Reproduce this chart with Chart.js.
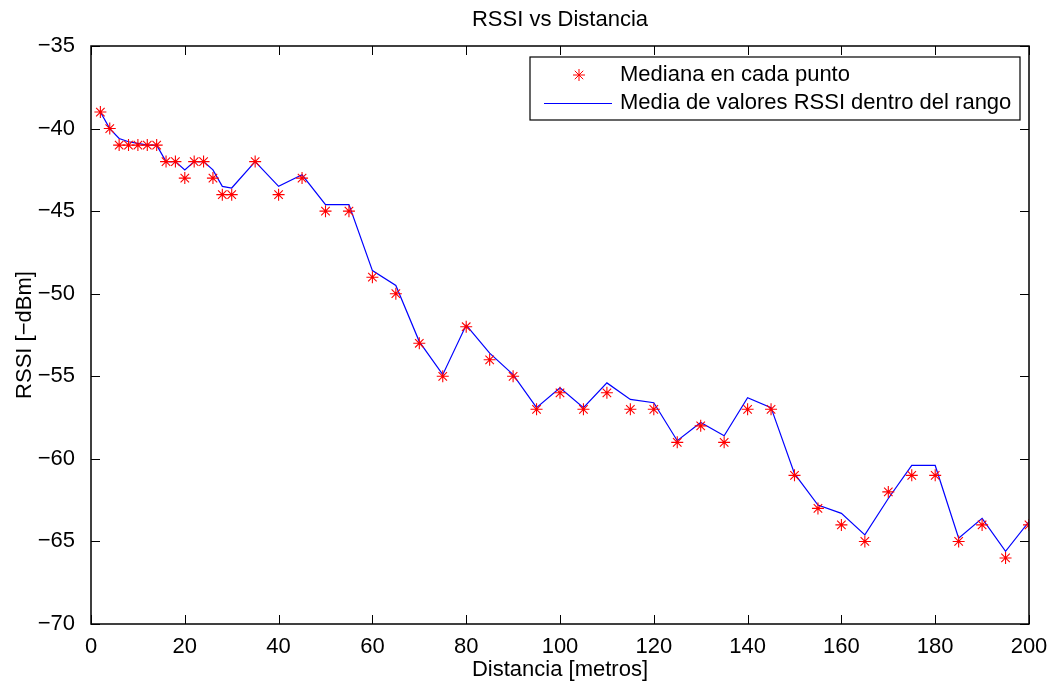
<!DOCTYPE html>
<html>
<head>
<meta charset="utf-8">
<script src="https://cdn.jsdelivr.net/npm/chart.js@4/dist/chart.umd.min.js"></script>
<style>
html,body{margin:0;padding:0;background:#fff;}
#wrap{width:1058px;height:683px;position:relative;}
</style>
</head>
<body>
<div id="wrap"><canvas id="c" width="1058" height="683"></canvas></div>
<script>
const chartTitle = 'RSSI vs Distancia';
const xTitle = 'Distancia [metros]';
const yTitle = 'RSSI [\u2212dBm]';
const legendLabels = ['Mediana en cada punto', 'Media de valores RSSI dentro del rango'];

const distances = [2,4,6,8,10,12,14,16,18,20,22,24,26,28,30,35,40,45,50,55,60,65,70,75,80,85,90,95,100,105,110,115,120,125,130,135,140,145,150,155,160,165,170,175,180,185,190,195,200];
const medianRSSI = [-39,-40,-41,-41,-41,-41,-41,-42,-42,-43,-42,-42,-43,-44,-44,-42,-44,-43,-45,-45,-49,-50,-53,-55,-52,-54,-55,-57,-56,-57,-56,-57,-57,-59,-58,-59,-57,-57,-61,-63,-64,-65,-62,-61,-61,-65,-64,-66,-64];
const meanRSSI = [-39,-40,-40.6,-40.8,-40.9,-41,-41,-42,-42,-42.5,-42,-42,-42.5,-43.5,-43.6,-42,-43.5,-42.8,-44.6,-44.6,-48.6,-49.5,-52.9,-54.9,-51.9,-53.6,-54.9,-56.9,-55.7,-56.9,-55.4,-56.4,-56.6,-58.9,-57.8,-58.6,-56.3,-56.9,-60.9,-62.8,-63.3,-64.6,-62.4,-60.4,-60.4,-64.8,-63.6,-65.6,-63.8];

const xTicks = [0,20,40,60,80,100,120,140,160,180,200];
const yTicks = [-70,-65,-60,-55,-50,-45,-40,-35];

const FONT = 'Liberation Sans, Arial, Helvetica, sans-serif';
const FS = 22;
const fmt = v => v < 0 ? '\u2212' + Math.abs(v) : String(v);

const frameTicks = {
  id: 'frameTicks',
  afterDatasetsDraw(chart) {
    const {ctx, chartArea: a, scales: {x, y}} = chart;
    ctx.save();
    ctx.strokeStyle = '#000';
    ctx.lineWidth = 1;
    const L = 9;
    ctx.beginPath();
    xTicks.forEach(v => {
      const px = Math.round(x.getPixelForValue(v)) + 0.5;
      ctx.moveTo(px, a.bottom); ctx.lineTo(px, a.bottom - L);
      ctx.moveTo(px, a.top); ctx.lineTo(px, a.top + L);
    });
    yTicks.forEach(v => {
      const py = Math.round(y.getPixelForValue(v)) + 0.5;
      ctx.moveTo(a.left, py); ctx.lineTo(a.left + L, py);
      ctx.moveTo(a.right, py); ctx.lineTo(a.right - L, py);
    });
    ctx.stroke();
    ctx.lineWidth = 1.5;
    ctx.strokeRect(a.left, a.top, a.right - a.left, a.bottom - a.top);

    // legend box
    const bx = a.left + 439, by = a.top + 11, bw = 490, bh = 63;
    ctx.fillStyle = '#fff';
    ctx.fillRect(bx, by, bw, bh);
    ctx.lineWidth = 1.2;
    ctx.strokeRect(bx, by, bw, bh);
    const sx = bx + 49, sy1 = by + 18, sy2 = by + 46;
    ctx.strokeStyle = '#ff0000';
    ctx.lineWidth = 1;
    ctx.beginPath();
    const r = 6;
    for (let k = 0; k < 4; k++) {
      const ang = k * Math.PI / 4;
      ctx.moveTo(sx - Math.cos(ang) * r, sy1 - Math.sin(ang) * r);
      ctx.lineTo(sx + Math.cos(ang) * r, sy1 + Math.sin(ang) * r);
    }
    ctx.stroke();
    ctx.strokeStyle = '#0000ff';
    ctx.beginPath();
    ctx.moveTo(bx + 14, sy2 + 0.5); ctx.lineTo(bx + 82, sy2 + 0.5);
    ctx.stroke();
    ctx.fillStyle = '#000';
    ctx.font = FS + 'px ' + FONT;
    ctx.textBaseline = 'middle';
    ctx.textAlign = 'left';
    ctx.fillText(legendLabels[0], bx + 90, sy1);
    ctx.fillText(legendLabels[1], bx + 90, sy2);
    ctx.restore();
  }
};

new Chart(document.getElementById('c'), {
  type: 'line',
  data: {
    datasets: [
      {
        label: legendLabels[1],
        data: distances.map((d, i) => ({x: d, y: meanRSSI[i]})),
        borderColor: '#0000ff',
        borderWidth: 1.2,
        pointRadius: 0,
        fill: false,
        tension: 0,
        order: 2
      },
      {
        label: legendLabels[0],
        data: distances.map((d, i) => ({x: d, y: medianRSSI[i]})),
        showLine: false,
        pointStyle: 'star',
        pointRadius: 6,
        pointBorderColor: '#ff0000',
        pointBackgroundColor: '#ff0000',
        pointBorderWidth: 1.1,
        order: 1
      }
    ]
  },
  options: {
    responsive: false,
    animation: false,
    events: [],
    layout: {padding: {left: 0, right: 29, top: 0, bottom: 0}},
    plugins: {
      legend: {display: false},
      tooltip: {enabled: false},
      title: {
        display: true,
        fullSize: false,
        text: chartTitle,
        color: '#000',
        font: {family: FONT, size: FS, weight: 'normal'},
        padding: {top: 7, bottom: 12.6}
      }
    },
    scales: {
      x: {
        type: 'linear',
        min: 0, max: 200,
        afterBuildTicks: s => { s.ticks = xTicks.map(v => ({value: v})); },
        afterFit: s => { s.height = 59; },
        grid: {display: false},
        border: {display: false},
        ticks: {color: '#000', font: {family: FONT, size: FS}, padding: 2, callback: v => fmt(v), maxRotation: 0, autoSkip: false},
        title: {display: true, text: xTitle, color: '#000', font: {family: FONT, size: FS}, padding: {top: 0, bottom: 0}}
      },
      y: {
        type: 'linear',
        min: -70, max: -35,
        afterBuildTicks: s => { s.ticks = yTicks.map(v => ({value: v})); },
        afterFit: s => { s.width = 91; },
        grid: {display: false},
        border: {display: false},
        ticks: {color: '#000', font: {family: FONT, size: FS}, padding: 8, callback: v => fmt(v), autoSkip: false},
        title: {display: true, text: yTitle, color: '#000', font: {family: FONT, size: FS}, padding: {top: 12, bottom: 0}}
      }
    }
  },
  plugins: [frameTicks]
});
</script>
</body>
</html>
